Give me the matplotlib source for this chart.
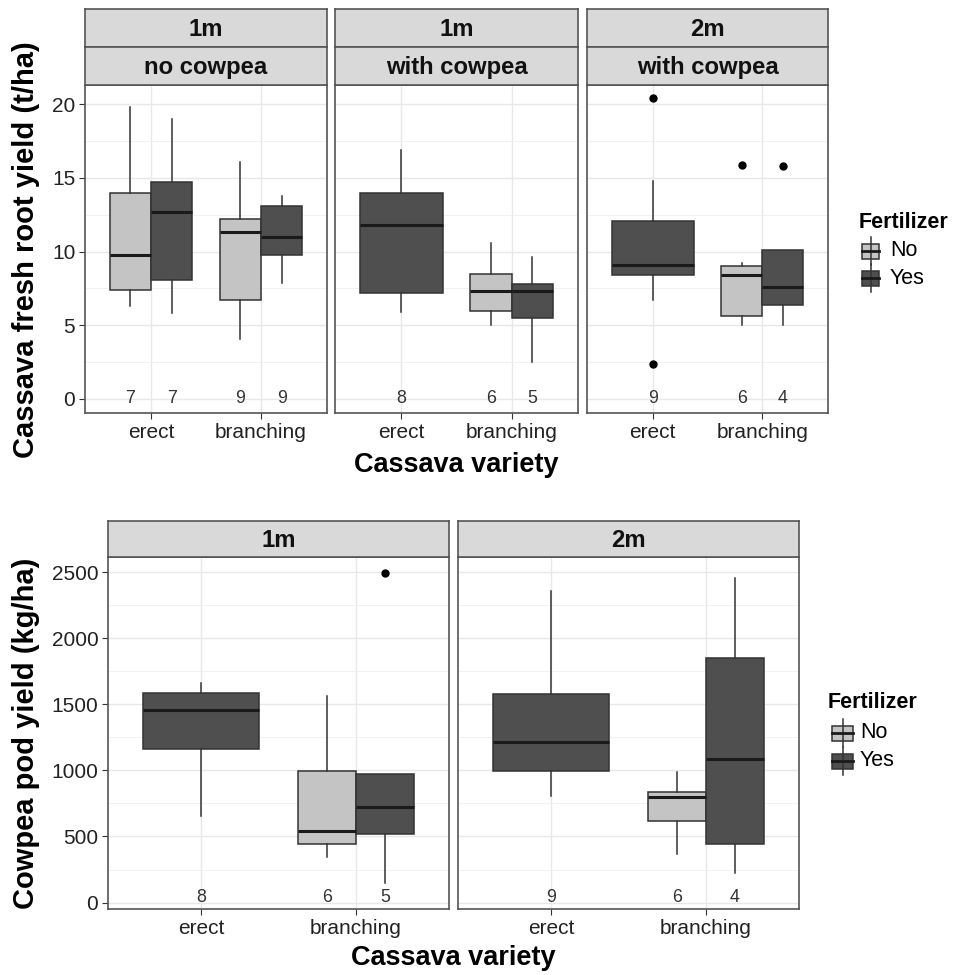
import matplotlib
matplotlib.use("Agg")
import matplotlib.pyplot as plt
from matplotlib.patches import Rectangle
from matplotlib.ticker import MultipleLocator

plt.rcParams['font.family'] = ['Liberation Sans', 'DejaVu Sans']

# ---------------------------------------------------------------------------
# Data (box stats per group)
# ---------------------------------------------------------------------------
varieties = ["erect", "branching"]

# top row: cassava fresh root yield (t/ha)
top_strips = [("1m", "no cowpea"), ("1m", "with cowpea"), ("2m", "with cowpea")]
top_panel = [0, 0, 0, 0, 1, 1, 1, 2, 2, 2]
top_variety = ["erect", "erect", "branching", "branching",
               "erect", "branching", "branching",
               "erect", "branching", "branching"]
top_fert = ["No", "Yes", "No", "Yes", "Yes", "No", "Yes", "Yes", "No", "Yes"]
top_whislo = [6.3, 5.8, 4.1, 7.9, 5.9, 5.0, 2.5, 6.7, 5.0, 5.0]
top_q1 = [7.4, 8.1, 6.7, 9.8, 7.2, 6.0, 5.5, 8.4, 5.6, 6.4]
top_med = [9.8, 12.7, 11.3, 11.0, 11.8, 7.3, 7.3, 9.1, 8.4, 7.6]
top_q3 = [14.0, 14.7, 12.2, 13.1, 14.0, 8.5, 7.8, 12.1, 9.0, 10.1]
top_whishi = [19.8, 19.0, 16.1, 13.8, 16.9, 10.6, 9.6, 14.8, 9.2, 10.1]
top_fliers = [[], [], [], [], [], [], [], [20.4, 2.4], [15.9], [15.8]]
top_n = [7, 7, 9, 9, 8, 6, 5, 9, 6, 4]

# bottom row: cowpea pod yield (kg/ha)
bot_strips = ["1m", "2m"]
bot_panel = [0, 0, 0, 1, 1, 1]
bot_variety = ["erect", "branching", "branching", "erect", "branching", "branching"]
bot_fert = ["Yes", "No", "Yes", "Yes", "No", "Yes"]
bot_whislo = [656, 341, 151, 807, 368, 227]
bot_q1 = [1163, 442, 520, 994, 620, 442]
bot_med = [1458, 545, 727, 1214, 800, 1087]
bot_q3 = [1589, 997, 974, 1579, 840, 1852]
bot_whishi = [1665, 1564, 974, 2361, 987, 2459]
bot_fliers = [[], [], [2493], [], [], []]
bot_n = [8, 6, 5, 9, 6, 4]

fill_cols = {"No": "#c4c4c4", "Yes": "#4f4f4f"}
line_col = "#333333"

W, H = 960, 975
fig = plt.figure(figsize=(W / 100, H / 100), dpi=100)


def px_axes(l, t, r, b):
    return fig.add_axes([l / W, 1 - b / H, (r - l) / W, (b - t) / H])


def strip(l, t, r, b, label):
    s = px_axes(l, t, r, b)
    s.set_facecolor("#d9d9d9")
    s.set_xticks([])
    s.set_yticks([])
    for sp in s.spines.values():
        sp.set_color("#555555")
        sp.set_linewidth(1.2)
    s.text(0.5, 0.47, label, ha="center", va="center", fontsize=17.2,
           fontweight="bold", color="#111111", transform=s.transAxes)


def draw_panel(ax, idx, panel, variety, fert, whislo, q1, med, q3, whishi,
               fliers, n, label_y):
    # dodge positions per variety
    for v_i, v in enumerate(varieties):
        grp = [i for i in range(len(panel)) if panel[i] == idx and variety[i] == v]
        k = len(grp)
        w = 0.75 / k
        for j, i in enumerate(grp):
            pos = v_i + 1 - 0.375 + w * (j + 0.5)
            st = dict(whislo=whislo[i], q1=q1[i], med=med[i], q3=q3[i],
                      whishi=whishi[i], fliers=fliers[i])
            ax.bxp([st], positions=[pos], widths=w, patch_artist=True,
                   showcaps=False, manage_ticks=False,
                   boxprops=dict(facecolor=fill_cols[fert[i]], edgecolor=line_col, linewidth=1.1),
                   medianprops=dict(color="#1a1a1a", linewidth=2.2),
                   whiskerprops=dict(color=line_col, linewidth=1.1),
                   flierprops=dict(marker="o", markersize=5, markerfacecolor="black",
                                   markeredgecolor="black"))
            ax.text(pos, label_y, str(n[i]), ha="center", va="center",
                    fontsize=12.8, color="#333333")
    ax.set_xlim(0.4, 2.6)
    ax.set_xticks([1, 2])
    ax.set_xticklabels(varieties, fontsize=15, color="#222222")
    ax.grid(True, which="major", color="#e8e8e8", linewidth=1.0)
    ax.grid(True, which="minor", axis="y", color="#f0f0f0", linewidth=0.6)
    ax.set_axisbelow(True)
    ax.tick_params(axis="both", which="major", length=4, color="#333333", pad=3)
    ax.tick_params(axis="y", which="minor", length=0)
    for sp in ax.spines.values():
        sp.set_color("#555555")
        sp.set_linewidth(1.2)


# --------------------------- top row ---------------------------------------
top_boxes = [(85, 327), (335, 578), (587, 828)]
for p, (l, r) in enumerate(top_boxes):
    ax = px_axes(l, 85, r, 413)
    draw_panel(ax, p, top_panel, top_variety, top_fert, top_whislo, top_q1,
               top_med, top_q3, top_whishi, top_fliers, top_n, 0)
    ax.set_ylim(-0.95, 21.3)
    ax.yaxis.set_major_locator(MultipleLocator(5))
    ax.yaxis.set_minor_locator(MultipleLocator(2.5))
    if p == 0:
        ax.tick_params(axis="y", labelsize=15, labelcolor="#222222")
    else:
        ax.tick_params(axis="y", which="major", length=0, labelleft=False)
    strip(l, 9, r, 47, top_strips[p][0])
    strip(l, 47, r, 85, top_strips[p][1])

fig.text(456 / W, 1 - 465 / H, "Cassava variety", ha="center", va="center",
         fontsize=19.5, fontweight="bold")
fig.text(26 / W, 1 - 250 / H, "Cassava fresh root yield (t/ha)", ha="center",
         va="center", rotation=90, fontsize=21, fontweight="bold")

# --------------------------- bottom row ------------------------------------
bot_boxes = [(108, 449), (458, 799)]
for p, (l, r) in enumerate(bot_boxes):
    ax = px_axes(l, 557, r, 909)
    draw_panel(ax, p, bot_panel, bot_variety, bot_fert, bot_whislo, bot_q1,
               bot_med, bot_q3, bot_whishi, bot_fliers, bot_n, 40)
    ax.set_ylim(-49, 2616)
    ax.yaxis.set_major_locator(MultipleLocator(500))
    ax.yaxis.set_minor_locator(MultipleLocator(250))
    if p == 0:
        ax.tick_params(axis="y", labelsize=15, labelcolor="#222222")
    else:
        ax.tick_params(axis="y", which="major", length=0, labelleft=False)
    strip(l, 521, r, 557, bot_strips[p])

fig.text(453 / W, 1 - 958 / H, "Cassava variety", ha="center", va="center",
         fontsize=19.5, fontweight="bold")
fig.text(26 / W, 1 - 733 / H, "Cowpea pod yield (kg/ha)", ha="center",
         va="center", rotation=90, fontsize=21, fontweight="bold")


# --------------------------- legends ---------------------------------------
def legend(x_title, y_title, x_key, key_w, x_txt, y_items):
    lg = px_axes(0, 0, W, H)
    lg.set_xlim(0, W)
    lg.set_ylim(H, 0)
    lg.axis("off")
    lg.patch.set_alpha(0)
    lg.text(x_title, y_title, "Fertilizer", ha="left", va="center",
            fontsize=15.5, fontweight="bold")
    for lab, yc in zip(["No", "Yes"], y_items):
        xc = x_key + key_w / 2
        lg.plot([xc, xc], [yc - 14, yc + 14], color=line_col, lw=1.1)
        lg.add_patch(Rectangle((x_key, yc - 7.5), key_w, 15,
                               facecolor=fill_cols[lab], edgecolor=line_col, lw=1.1))
        lg.plot([x_key, x_key + key_w], [yc, yc], color="#1a1a1a", lw=2)
        lg.text(x_txt, yc, lab, ha="left", va="center", fontsize=15.5)


legend(859, 222, 862, 17, 890, [251, 278])
legend(828, 703, 832, 21, 860, [733, 761])

fig.savefig("out.png", dpi=100, facecolor="white")
